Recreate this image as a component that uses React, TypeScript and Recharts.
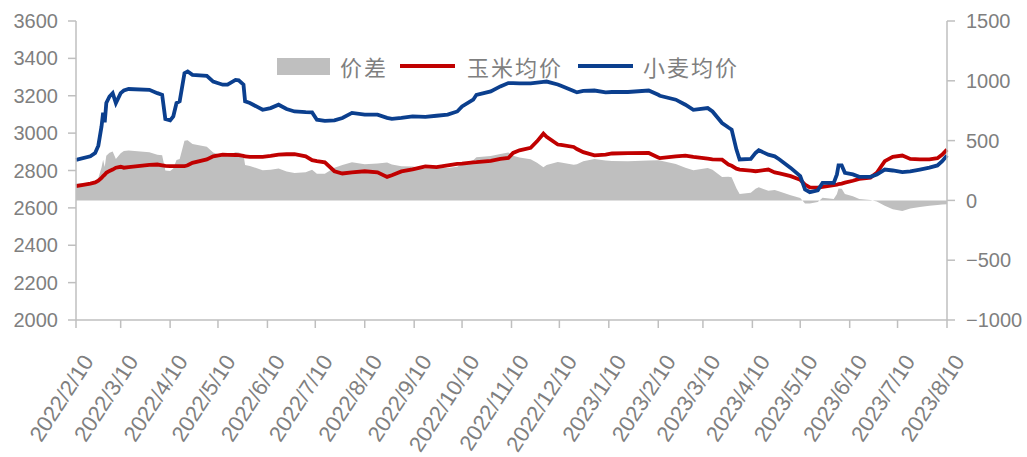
import { Area, ComposedChart, Line, XAxis, YAxis } from "recharts";

const dates = [
  "2022/2/10", "2022/2/19", "2022/2/22", "2022/2/24", "2022/2/26", "2022/2/27", "2022/2/28", "2022/3/1",
  "2022/3/3", "2022/3/5", "2022/3/7", "2022/3/10", "2022/3/12", "2022/3/15", "2022/3/28", "2022/4/2",
  "2022/4/5", "2022/4/7", "2022/4/10", "2022/4/12", "2022/4/14", "2022/4/16", "2022/4/19", "2022/4/21",
  "2022/4/24", "2022/5/3", "2022/5/7", "2022/5/13", "2022/5/16", "2022/5/21", "2022/5/23", "2022/5/26",
  "2022/5/27", "2022/5/30", "2022/6/7", "2022/6/12", "2022/6/17", "2022/6/22", "2022/6/27", "2022/7/4",
  "2022/7/8", "2022/7/11", "2022/7/16", "2022/7/22", "2022/7/27", "2022/8/2", "2022/8/10", "2022/8/18",
  "2022/8/24", "2022/8/27", "2022/9/2", "2022/9/9", "2022/9/17", "2022/9/24", "2022/10/1", "2022/10/7",
  "2022/10/10", "2022/10/17", "2022/10/19", "2022/10/28", "2022/11/3", "2022/11/8", "2022/11/11", "2022/11/15",
  "2022/11/22", "2022/11/26", "2022/11/30", "2022/12/2", "2022/12/9", "2022/12/11", "2022/12/19", "2022/12/21",
  "2022/12/25", "2023/1/1", "2023/1/8", "2023/1/12", "2023/1/22", "2023/2/4", "2023/2/10", "2023/2/11",
  "2023/2/21", "2023/2/27", "2023/3/4", "2023/3/13", "2023/3/16", "2023/3/22", "2023/3/26", "2023/3/28",
  "2023/3/31", "2023/4/2", "2023/4/9", "2023/4/12", "2023/4/14", "2023/4/20", "2023/4/24", "2023/4/27",
  "2023/5/4", "2023/5/10", "2023/5/13", "2023/5/16", "2023/5/21", "2023/5/24", "2023/5/31", "2023/6/2",
  "2023/6/3", "2023/6/5", "2023/6/7", "2023/6/12", "2023/6/16", "2023/6/23", "2023/6/27", "2023/7/2",
  "2023/7/7", "2023/7/13", "2023/7/18", "2023/7/24", "2023/7/30", "2023/8/4", "2023/8/7", "2023/8/10",
];

// 小麦均价
const wheatPrice = [
  2857, 2876, 2894, 2933, 3036, 3109, 3058, 3161,
  3196, 3214, 3161, 3214, 3228, 3236, 3232, 3214,
  3205, 3075, 3068, 3090, 3161, 3170, 3321, 3330,
  3312, 3307, 3276, 3259, 3259, 3285, 3283, 3259,
  3170, 3161, 3125, 3134, 3152, 3129, 3116, 3112,
  3111, 3072, 3066, 3068, 3081, 3108, 3099, 3099,
  3082, 3076, 3081, 3090, 3087, 3093, 3099, 3116,
  3143, 3179, 3205, 3223, 3250, 3268, 3268, 3266,
  3266, 3270, 3274, 3276, 3260, 3253, 3225, 3218,
  3226, 3228, 3218, 3220, 3220, 3228, 3205, 3200,
  3179, 3152, 3125, 3134, 3116, 3054, 3030, 3019,
  2912, 2859, 2862, 2894, 2908, 2885, 2876, 2859,
  2814, 2770, 2699, 2684, 2694, 2734, 2734, 2779,
  2827, 2827, 2788, 2779, 2766, 2766, 2779, 2805,
  2800, 2791, 2795, 2805, 2815, 2827, 2850, 2880,
];

// 玉米均价
const cornPrice = [
  2716, 2730, 2736, 2745, 2760, 2770, 2778, 2788,
  2798, 2805, 2815, 2820, 2815, 2818, 2830, 2832,
  2828, 2825, 2823, 2823, 2823, 2823, 2823, 2828,
  2841, 2859, 2876, 2885, 2884, 2883, 2882, 2878,
  2875, 2873, 2873, 2878, 2885, 2887, 2887, 2876,
  2855, 2850, 2844, 2796, 2784, 2790, 2796, 2790,
  2766, 2775, 2795, 2806, 2822, 2818, 2828, 2835,
  2837, 2844, 2845, 2852, 2862, 2867, 2894, 2908,
  2921, 2956, 2997, 2980, 2939, 2937, 2926, 2915,
  2898, 2881, 2885, 2891, 2893, 2894, 2870, 2866,
  2875, 2880, 2873, 2863, 2860, 2858, 2832, 2825,
  2810, 2805, 2799, 2796, 2798, 2805, 2790, 2785,
  2770, 2750, 2725, 2710, 2708, 2712, 2722, 2725,
  2727, 2730, 2735, 2745, 2755, 2762, 2788, 2850,
  2873, 2880, 2862, 2860, 2860, 2866, 2885, 2912,
];

// 价差
const spread = [
  141, 146, 158, 188, 276, 339, 280, 373,
  398, 409, 346, 394, 413, 418, 402, 382,
  377, 250, 245, 267, 338, 347, 498, 502,
  471, 448, 400, 374, 375, 402, 401, 381,
  295, 288, 252, 256, 267, 242, 229, 236,
  256, 222, 222, 272, 297, 318, 303, 309,
  316, 301, 286, 284, 265, 275, 271, 281,
  306, 335, 360, 371, 388, 401, 374, 358,
  345, 314, 277, 296, 321, 316, 299, 303,
  328, 347, 333, 329, 327, 334, 335, 334,
  304, 272, 252, 271, 256, 196, 198, 194,
  102, 54, 63, 98, 110, 80, 86, 74,
  44, 20, -26, -26, -14, 22, 12, 54,
  100, 97, 53, 34, 11, 4, -9, -45,
  -73, -89, -67, -55, -45, -39, -35, -32,
];

const tickDates = [
  "2022/2/10", "2022/3/10", "2022/4/10", "2022/5/10", "2022/6/10", "2022/7/10", "2022/8/10",
  "2022/9/10", "2022/10/10", "2022/11/10", "2022/12/10", "2023/1/10", "2023/2/10", "2023/3/10",
  "2023/4/10", "2023/5/10", "2023/6/10", "2023/7/10", "2023/8/10",
];
const leftTicks = [2000, 2200, 2400, 2600, 2800, 3000, 3200, 3400, 3600];
const rightTicks = [-1000, -500, 0, 500, 1000, 1500];

function toTime(s: string): number {
  const [y, m, d] = s.split("/").map(Number);
  return Date.UTC(y, m - 1, d);
}

const tickTimes = tickDates.map(toTime);
const tickLabel = new Map(tickDates.map((d) => [toTime(d), d]));

const chartData = dates.map((d, i) => ({
  t: toTime(d),
  wheat: wheatPrice[i],
  corn: cornPrice[i],
  spread: spread[i],
}));

const GRAY = "#bfbfbf";
const TEXT = "#7f7f7f";
const FONT = "'Liberation Sans', Arial, sans-serif";
const CJK = "'Noto Sans CJK SC', sans-serif";

function DateTick(props: any) {
  const { x, y, payload } = props;
  return (
    <g transform={`translate(${x + 12},${y + 27})`}>
      <text
        textAnchor="end"
        transform="rotate(-57)"
        dy="0.35em"
        fill={TEXT}
        fontSize={22}
        fontFamily={FONT}
      >
        {tickLabel.get(payload.value)}
      </text>
    </g>
  );
}

function formatRight(v: number): string {
  return v < 0 ? `\u2212${Math.abs(v)}` : String(v);
}

function LegendBox() {
  const label = {
    position: "absolute" as const,
    top: 52,
    fontFamily: CJK,
    fontSize: 22,
    letterSpacing: 2,
    color: TEXT,
    lineHeight: "28px",
    whiteSpace: "nowrap" as const,
  };
  return (
    <>
      <div style={{ position: "absolute", left: 277, top: 58, width: 53, height: 17, background: GRAY }} />
      <div style={{ ...label, left: 340 }}>价差</div>
      <div style={{ position: "absolute", left: 400, top: 64, width: 55, height: 4, background: "#c00000" }} />
      <div style={{ ...label, left: 467 }}>玉米均价</div>
      <div style={{ position: "absolute", left: 578, top: 64, width: 55, height: 4, background: "#0b3f8e" }} />
      <div style={{ ...label, left: 643 }}>小麦均价</div>
    </>
  );
}

export default function App() {
  return (
    <div style={{ position: "relative", width: 1027, height: 457, background: "#fff" }}>
      <style>{"body{margin:0}"}</style>
      <ComposedChart
        width={1027}
        height={457}
        data={chartData}
        margin={{ top: 21, right: 0, bottom: 0, left: 0 }}
      >
        <XAxis
          dataKey="t"
          type="number"
          domain={[tickTimes[0], tickTimes[tickTimes.length - 1]]}
          ticks={tickTimes}
          interval={0}
          height={137}
          axisLine={{ stroke: GRAY, strokeWidth: 1.5 }}
          tickLine={{ stroke: GRAY, strokeWidth: 1.5 }}
          tickSize={8}
          tick={<DateTick />}
        />
        <YAxis
          yAxisId="left"
          domain={[2000, 3600]}
          ticks={leftTicks}
          interval={0}
          width={76}
          axisLine={{ stroke: GRAY, strokeWidth: 1.5 }}
          tickLine={{ stroke: GRAY, strokeWidth: 1.5 }}
          tickSize={8}
          tickMargin={10}
          tick={{ fill: TEXT, fontSize: 20, fontFamily: FONT }}
        />
        <YAxis
          yAxisId="right"
          orientation="right"
          domain={[-1000, 1500]}
          ticks={rightTicks}
          interval={0}
          width={80}
          axisLine={{ stroke: GRAY, strokeWidth: 1.5 }}
          tickLine={{ stroke: GRAY, strokeWidth: 1.5 }}
          tickSize={8}
          tickMargin={11}
          tickFormatter={formatRight}
          tick={{ fill: TEXT, fontSize: 20, fontFamily: FONT }}
        />
        <Area
          yAxisId="right"
          dataKey="spread"
          type="linear"
          baseValue={0}
          fill={GRAY}
          fillOpacity={1}
          stroke="none"
          isAnimationActive={false}
        />
        <Line
          yAxisId="left"
          dataKey="corn"
          type="linear"
          stroke="#c00000"
          strokeWidth={3.8}
          dot={false}
          isAnimationActive={false}
        />
        <Line
          yAxisId="left"
          dataKey="wheat"
          type="linear"
          stroke="#0b3f8e"
          strokeWidth={3.8}
          dot={false}
          isAnimationActive={false}
        />
      </ComposedChart>
      <LegendBox />
    </div>
  );
}
